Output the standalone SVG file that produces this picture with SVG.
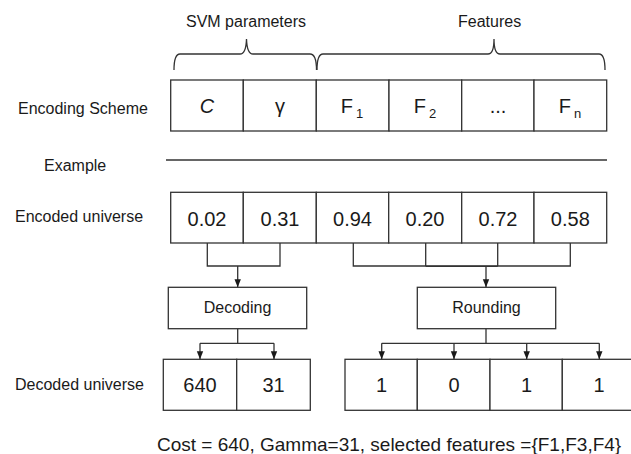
<svg xmlns="http://www.w3.org/2000/svg" width="631" height="454" viewBox="0 0 631 454">
<style>
.cell{fill:#fff;stroke:#333;stroke-width:1.3}
.ln{fill:none;stroke:#333;stroke-width:1.3}
.lbl{font-family:"Liberation Sans",Arial,sans-serif;font-size:16px;fill:#1a1a1a}
.val{font-family:"Liberation Sans",Arial,sans-serif;font-size:20px;fill:#1a1a1a;text-anchor:middle}
.box{font-family:"Liberation Sans",Arial,sans-serif;font-size:16px;fill:#1a1a1a;text-anchor:middle}
.sub{font-size:13px}
</style>
<defs>
<marker id="ah" markerWidth="8" markerHeight="10" refX="4" refY="9" orient="auto-start-reverse" markerUnits="userSpaceOnUse" viewBox="0 0 8 10">
<path d="M0,0 L8,0 L4,9 Z" fill="#1a1a1a" transform="rotate(-90 4 4.5) translate(0 0)"/>
</marker>
<marker id="arr" markerWidth="8" markerHeight="10" refX="10" refY="4" orient="auto" markerUnits="userSpaceOnUse" viewBox="0 0 10 8">
<path d="M0,0 L10,4 L0,8 Z" fill="#1a1a1a"/>
</marker>
</defs>

<!-- row labels -->
<g id="labels">
<text class="lbl" x="18" y="114">Encoding Scheme</text>
<text class="lbl" x="44" y="171">Example</text>
<text class="lbl" x="15" y="222">Encoded universe</text>
<text class="lbl" x="15" y="390">Decoded universe</text>
<text class="lbl" x="186" y="27">SVM parameters</text>
<text class="lbl" x="458" y="27">Features</text>
</g>

<!-- braces and separator -->
<g id="braces">
<path class="ln" d="M174,70 Q174,54 180,54 L240,54 Q246,54 246.5,39 Q247,54 253,54 L310,54 Q316.5,54 316.5,70"/>
<path class="ln" d="M317,70 Q317,54 323,54 L488,54 Q494,54 494,39 Q494,54 500,54 L599,54 Q605,54 605,70"/>
<line class="ln" x1="166" y1="160" x2="607" y2="160"/>
</g>

<!-- encoding scheme -->
<g id="enc-C"><rect class="cell" x="170.7" y="80" width="72.6" height="51"/><text class="val" x="207" y="113" font-style="italic">C</text></g>
<g id="enc-gamma"><rect class="cell" x="243.3" y="80" width="73" height="51"/><text class="val" x="280" y="113">γ</text></g>
<g id="enc-F1"><rect class="cell" x="316.3" y="80" width="72.7" height="51"/><text class="val" x="352" y="113">F<tspan class="sub" dx="3" dy="5">1</tspan></text></g>
<g id="enc-F2"><rect class="cell" x="389" y="80" width="72.7" height="51"/><text class="val" x="425" y="113">F<tspan class="sub" dx="3" dy="5">2</tspan></text></g>
<g id="enc-dots"><rect class="cell" x="461.7" y="80" width="72.3" height="51"/><text class="val" x="498" y="113">...</text></g>
<g id="enc-Fn"><rect class="cell" x="534" y="80" width="72.7" height="51"/><text class="val" x="570" y="113">F<tspan class="sub" dx="3" dy="5">n</tspan></text></g>

<!-- encoded universe -->
<g id="e1"><rect class="cell" x="170.7" y="192.3" width="72.6" height="50.7"/><text class="val" x="207" y="226">0.02</text></g>
<g id="e2"><rect class="cell" x="243.3" y="192.3" width="73" height="50.7"/><text class="val" x="280" y="226">0.31</text></g>
<g id="e3"><rect class="cell" x="316.3" y="192.3" width="72.4" height="50.7"/><text class="val" x="352.5" y="226">0.94</text></g>
<g id="e4"><rect class="cell" x="388.7" y="192.3" width="73" height="50.7"/><text class="val" x="425" y="226">0.20</text></g>
<g id="e5"><rect class="cell" x="461.7" y="192.3" width="72.3" height="50.7"/><text class="val" x="498" y="226">0.72</text></g>
<g id="e6"><rect class="cell" x="534" y="192.3" width="72.7" height="50.7"/><text class="val" x="570.3" y="226">0.58</text></g>

<!-- process boxes -->
<g id="decoding"><rect class="cell" x="168.3" y="287.3" width="138.4" height="41.4"/><text class="box" x="237.5" y="313">Decoding</text></g>
<g id="rounding"><rect class="cell" x="417.3" y="287.3" width="138.4" height="41.4"/><text class="box" x="486.5" y="313">Rounding</text></g>

<!-- decoded universe -->
<g id="d1"><rect class="cell" x="163.3" y="359.3" width="73.4" height="51"/><text class="val" x="200" y="392">640</text></g>
<g id="d2"><rect class="cell" x="236.7" y="359.3" width="73.6" height="51"/><text class="val" x="273.5" y="392">31</text></g>
<g id="d3"><rect class="cell" x="345" y="359.3" width="72.3" height="51"/><text class="val" x="381.5" y="392">1</text></g>
<g id="d4"><rect class="cell" x="417.3" y="359.3" width="72.7" height="51"/><text class="val" x="454" y="392">0</text></g>
<g id="d5"><rect class="cell" x="490" y="359.3" width="72.3" height="51"/><text class="val" x="526.5" y="392">1</text></g>
<g id="d6"><rect class="cell" x="562.3" y="359.3" width="73" height="51"/><text class="val" x="599" y="392">1</text></g>

<!-- connectors -->
<g id="connectors">
<path class="ln" d="M207.3,243 V266 H280 V243"/>
<line class="ln" x1="237.7" y1="266" x2="237.7" y2="287.3" marker-end="url(#arr)"/>
<path class="ln" d="M353.3,243 V266 H570.3 V243 M425.7,243 V266 M497.7,243 V266"/>
<line class="ln" x1="425.7" y1="266.3" x2="497.7" y2="266.3"/>
<line class="ln" x1="486" y1="266" x2="486" y2="287.3" marker-end="url(#arr)"/>
<path class="ln" d="M237.7,328.7 V343.3 M200,343.3 H274"/>
<line class="ln" x1="200" y1="343.3" x2="200" y2="359.3" marker-end="url(#arr)"/>
<line class="ln" x1="274" y1="343.3" x2="274" y2="359.3" marker-end="url(#arr)"/>
<path class="ln" d="M486,328.7 V343.3 M381.7,343.3 H599.3"/>
<line class="ln" x1="381.7" y1="343.3" x2="381.7" y2="359.3" marker-end="url(#arr)"/>
<line class="ln" x1="454" y1="343.3" x2="454" y2="359.3" marker-end="url(#arr)"/>
<line class="ln" x1="526.7" y1="343.3" x2="526.7" y2="359.3" marker-end="url(#arr)"/>
<line class="ln" x1="599.3" y1="343.3" x2="599.3" y2="359.3" marker-end="url(#arr)"/>
</g>

<text id="caption" x="157" y="451" font-family="'Liberation Sans',Arial,sans-serif" font-size="19" fill="#1a1a1a">Cost = 640, Gamma=31, selected features ={F1,F3,F4}</text>
</svg>
